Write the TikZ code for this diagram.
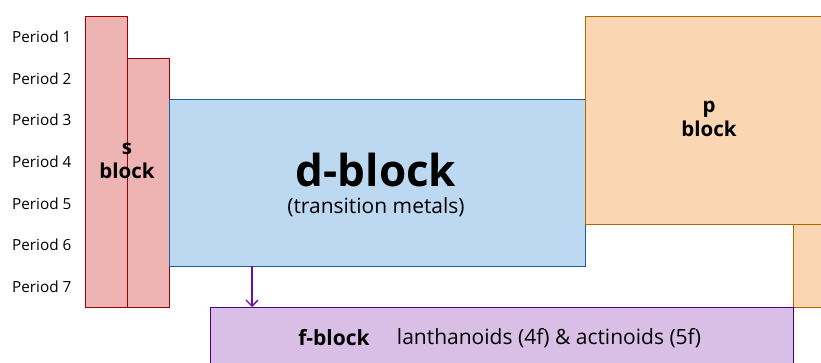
\documentclass[tikz,border=0pt]{standalone}
\usepackage{fontspec}
\setmainfont{Open Sans}
\usetikzlibrary{arrows.meta}
\definecolor{sfill}{HTML}{EEB4B4}
\definecolor{sline}{HTML}{990000}
\definecolor{dfill}{HTML}{BDD8F1}
\definecolor{dline}{HTML}{1F5C99}
\definecolor{pfill}{HTML}{FAD7B2}
\definecolor{pline}{HTML}{B46504}
\definecolor{ffill}{HTML}{D9BFE6}
\definecolor{fline}{HTML}{4C0080}
\definecolor{arr}{HTML}{6A0DAD}
\tikzset{
  blk/.style={draw, line width=0.8pt, inner sep=0pt, outer sep=0pt, anchor=north west},
  sblk/.style={blk, fill=sfill, draw=sline},
  per/.style={font=\fontsize{15.3}{17}\selectfont, anchor=west, inner sep=0pt},
  lbl/.style={font=\fontsize{20.5}{24}\selectfont\bfseries, align=center, inner sep=0pt},
  txt/.style={font=\fontsize{21}{24}\selectfont, inner sep=0pt},
}
\begin{document}
\begin{tikzpicture}[x=1pt,y=-1pt]
\useasboundingbox (0,0) rectangle (821,363);
\clip (0,0) rectangle (821,363);
% s block
\node[sblk, minimum width=42pt, minimum height=291pt] (s1) at (85,16) {};
\node[sblk, minimum width=42pt, minimum height=249pt] (s2) at (127,58) {};
\node[lbl] (slab) at (127,161) {s\\block};
% d block
\node[blk, fill=dfill, draw=dline, minimum width=416pt, minimum height=167pt] (d) at (169,99) {};
\node[font=\fontsize{44}{48}\selectfont\bfseries, inner sep=0pt] (dlab) at (376,170) {d-block};
\node[txt] (dsub) at (376,207) {(transition metals)};
% p block
\node[blk, fill=pfill, draw=pline, minimum width=250pt, minimum height=208pt] (p) at (585,16) {};
\node[blk, fill=pfill, draw=pline, minimum width=40pt, minimum height=83pt] (p2) at (793,224) {};
\node[lbl] (plab) at (709,119) {p\\block};
% f block
\node[blk, fill=ffill, draw=fline, minimum width=583pt, minimum height=70pt] (f) at (210,307) {};
\node[txt, font=\fontsize{21}{24}\selectfont\bfseries] (flab) at (334,338) {f-block};
\node[txt] (fsub) at (549,338) {lanthanoids (4f) \& actinoids (5f)};
% arrow
\coordinate (a0) at (252,266);
\coordinate (a1) at (252,307);
\draw[arr, line width=1.3pt, -{Straight Barb[length=6pt,width=12pt]}] (a0) -- (a1);
% periods
\foreach \i/\y in {1/37,2/79,3/120,4/162,5/204,6/245,7/287}
  \node[per] (per\i) at (12,\y) {Period \i};
\end{tikzpicture}
\end{document}
